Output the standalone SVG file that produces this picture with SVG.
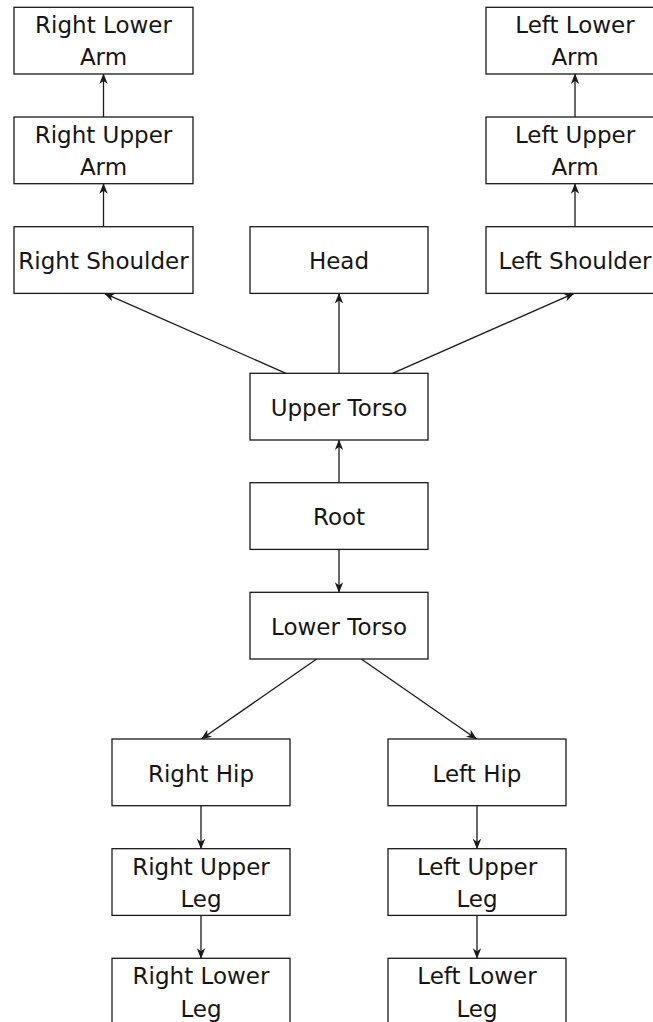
<svg xmlns="http://www.w3.org/2000/svg" width="653" height="1022" viewBox="0 0 653 1022">
  <style>
    .box { fill: #ffffff; stroke: #1a1a1a; stroke-width: 1.3; }
    .lbl { font-family: "DejaVu Sans", "Liberation Sans", sans-serif; font-size: 23px; fill: #151515; text-anchor: middle; }
    .edge { fill: none; stroke: #1a1a1a; stroke-width: 1.3; marker-end: url(#tip); }
  </style>
  <defs>
    <marker id="tip" markerUnits="userSpaceOnUse" markerWidth="13" markerHeight="11" viewBox="-11 -5.5 13 11" refX="0" refY="0" orient="auto">
      <path d="M0.5,0 L-10,-4.2 L-7,0 L-10,4.2 Z" fill="#1a1a1a"/>
    </marker>
  </defs>

  <rect width="653" height="1022" fill="#ffffff"/>

  <!-- connectors -->
  <g id="connectors">
    <line class="edge" x1="103.5" y1="117" x2="103.5" y2="74"/>
    <line class="edge" x1="103.5" y1="226.7" x2="103.5" y2="183.7"/>
    <line class="edge" x1="575" y1="117" x2="575" y2="74"/>
    <line class="edge" x1="575" y1="226.7" x2="575" y2="183.7"/>
    <line class="edge" x1="339" y1="373.3" x2="339" y2="293.4"/>
    <line class="edge" x1="286" y1="373.3" x2="104.5" y2="293.4"/>
    <line class="edge" x1="392.5" y1="373.3" x2="574" y2="293.4"/>
    <line class="edge" x1="339" y1="482.7" x2="339" y2="440"/>
    <line class="edge" x1="339" y1="549.4" x2="339" y2="592.3"/>
    <line class="edge" x1="316.7" y1="659" x2="201.5" y2="739"/>
    <line class="edge" x1="361.3" y1="659" x2="476.5" y2="739"/>
    <line class="edge" x1="201" y1="805.7" x2="201" y2="848.7"/>
    <line class="edge" x1="201" y1="915.4" x2="201" y2="958.3"/>
    <line class="edge" x1="477" y1="805.7" x2="477" y2="848.7"/>
    <line class="edge" x1="477" y1="915.4" x2="477" y2="958.3"/>
  </g>

  <!-- arms, right side of body -->
  <g id="right-lower-arm">
    <rect class="box" x="14" y="7.3" width="179" height="66.7"/>
    <text class="lbl" x="103.5" y="33.3">Right Lower</text>
    <text class="lbl" x="103.5" y="65.3">Arm</text>
  </g>
  <g id="right-upper-arm">
    <rect class="box" x="14" y="117" width="179" height="66.7"/>
    <text class="lbl" x="103.5" y="143">Right Upper</text>
    <text class="lbl" x="103.5" y="175">Arm</text>
  </g>
  <g id="right-shoulder">
    <rect class="box" x="14" y="226.7" width="179" height="66.7"/>
    <text class="lbl" x="103.5" y="269.3">Right Shoulder</text>
  </g>

  <!-- arms, left side of body -->
  <g id="left-lower-arm">
    <rect class="box" x="486" y="7.3" width="178" height="66.7"/>
    <text class="lbl" x="575" y="33.3">Left Lower</text>
    <text class="lbl" x="575" y="65.3">Arm</text>
  </g>
  <g id="left-upper-arm">
    <rect class="box" x="486" y="117" width="178" height="66.7"/>
    <text class="lbl" x="575" y="143">Left Upper</text>
    <text class="lbl" x="575" y="175">Arm</text>
  </g>
  <g id="left-shoulder">
    <rect class="box" x="486" y="226.7" width="178" height="66.7"/>
    <text class="lbl" x="575" y="269.3">Left Shoulder</text>
  </g>

  <!-- spine -->
  <g id="head">
    <rect class="box" x="250" y="226.7" width="178" height="66.7"/>
    <text class="lbl" x="339" y="269.3">Head</text>
  </g>
  <g id="upper-torso">
    <rect class="box" x="250" y="373.3" width="178" height="66.7"/>
    <text class="lbl" x="339" y="416">Upper Torso</text>
  </g>
  <g id="root">
    <rect class="box" x="250" y="482.7" width="178" height="66.7"/>
    <text class="lbl" x="339" y="525.2">Root</text>
  </g>
  <g id="lower-torso">
    <rect class="box" x="250" y="592.3" width="178" height="66.7"/>
    <text class="lbl" x="339" y="634.8">Lower Torso</text>
  </g>

  <!-- legs -->
  <g id="right-hip">
    <rect class="box" x="112" y="739" width="178" height="66.7"/>
    <text class="lbl" x="201" y="781.5">Right Hip</text>
  </g>
  <g id="right-upper-leg">
    <rect class="box" x="112" y="848.7" width="178" height="66.7"/>
    <text class="lbl" x="201" y="874.7">Right Upper</text>
    <text class="lbl" x="201" y="906.9">Leg</text>
  </g>
  <g id="right-lower-leg">
    <rect class="box" x="112" y="958.3" width="178" height="66.7"/>
    <text class="lbl" x="201" y="984.3">Right Lower</text>
    <text class="lbl" x="201" y="1016.6">Leg</text>
  </g>
  <g id="left-hip">
    <rect class="box" x="388" y="739" width="178" height="66.7"/>
    <text class="lbl" x="477" y="781.5">Left Hip</text>
  </g>
  <g id="left-upper-leg">
    <rect class="box" x="388" y="848.7" width="178" height="66.7"/>
    <text class="lbl" x="477" y="874.7">Left Upper</text>
    <text class="lbl" x="477" y="906.9">Leg</text>
  </g>
  <g id="left-lower-leg">
    <rect class="box" x="388" y="958.3" width="178" height="66.7"/>
    <text class="lbl" x="477" y="984.3">Left Lower</text>
    <text class="lbl" x="477" y="1016.6">Leg</text>
  </g>
</svg>
